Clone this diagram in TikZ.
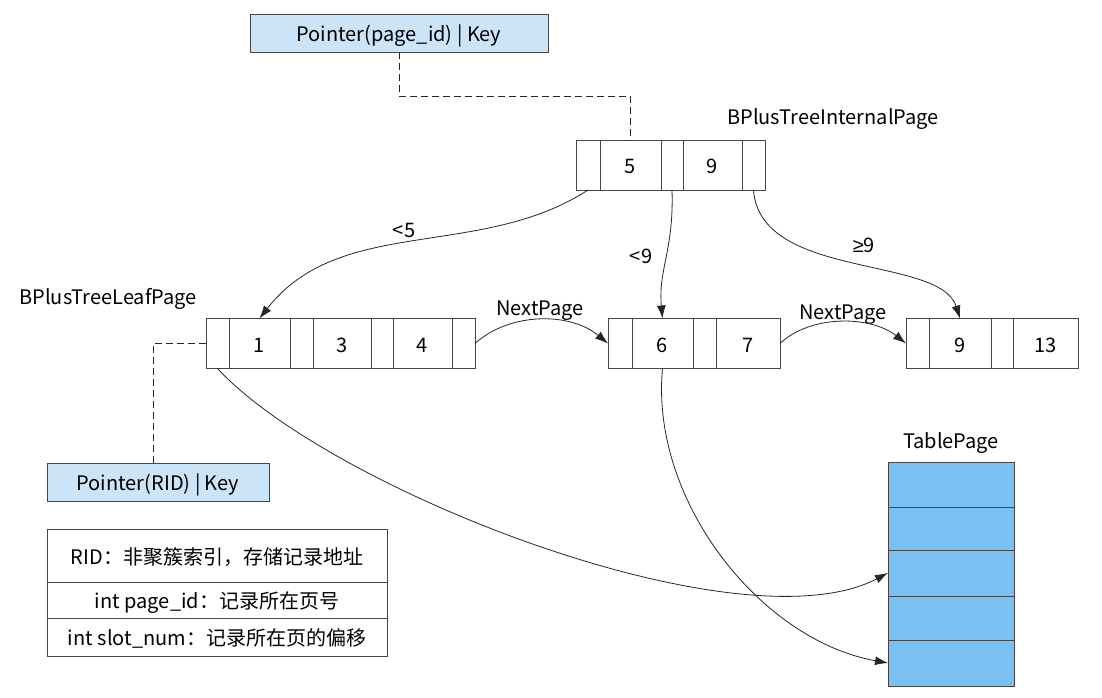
\documentclass[tikz,border=0pt]{standalone}
\usepackage{fontspec}
\setmainfont{Noto Sans CJK SC}
\newfontfamily\mathsym{Liberation Sans}
\usepackage{tikz}
\usetikzlibrary{arrows.meta, calc}

\definecolor{keyblue}{RGB}{204,228,248}
\definecolor{rowblue}{RGB}{124,193,243}
\definecolor{edgegray}{RGB}{70,70,70}

\begin{document}
\begin{tikzpicture}[x=1pt, y=-1pt, line width=0.9pt, font=\fontsize{20}{23}\selectfont,
    text height=14.6pt, text depth=0pt,
    cell/.style={draw=edgegray, minimum height=50pt, inner sep=0pt, outer sep=0pt, anchor=west, text height=17pt},
    keybox/.style={draw=edgegray, fill=keyblue, minimum height=38pt, inner sep=0pt, text height=17pt},
    tablerow/.style={draw=edgegray, fill=rowblue, minimum width=126pt, inner sep=0pt, outer sep=0pt, anchor=north},
    legendrow/.style={draw=edgegray, fill=white, minimum width=340pt, inner sep=0pt, outer sep=0pt, anchor=north, text height=17pt},
    link/.style={-{Latex[length=13pt,width=9pt]}, draw=black!85, line width=0.8pt},
    guide/.style={dashed, dash pattern=on 7pt off 4pt, draw=black!85}]
                        \useasboundingbox (0,0) rectangle (1102,698);
                        % internal page
                        \node[cell, minimum width=24pt] (ip0) at (576,165) {};
                        \node[cell, minimum width=61pt] (ik5) at (ip0.east) {5};
                        \node[cell, minimum width=22pt] (ip1) at (ik5.east) {};
                        \node[cell, minimum width=59pt] (ik9) at (ip1.east) {9};
                        \node[cell, minimum width=23pt] (ip2) at (ik9.east) {};
                        % leaf pages
                        \node[cell, minimum width=23pt] (lp0) at (206,343.5) {};
                        \node[cell, minimum width=61pt] (lk1) at (lp0.east) {1};
                        \node[cell, minimum width=23pt] (lp1) at (lk1.east) {};
                        \node[cell, minimum width=58pt] (lk3) at (lp1.east) {3};
                        \node[cell, minimum width=22pt] (lp2) at (lk3.east) {};
                        \node[cell, minimum width=59pt] (lk4) at (lp2.east) {4};
                        \node[cell, minimum width=23pt] (lp3) at (lk4.east) {};
                        \node[cell, minimum width=24pt] (mp0) at (608,343.5) {};
                        \node[cell, minimum width=61pt] (mk6) at (mp0.east) {6};
                        \node[cell, minimum width=23pt] (mp1) at (mk6.east) {};
                        \node[cell, minimum width=64pt] (mk7) at (mp1.east) {7};
                        \node[cell, minimum width=23pt] (rp0) at (906,343.5) {};
                        \node[cell, minimum width=62pt] (rk9) at (rp0.east) {9};
                        \node[cell, minimum width=22pt] (rp1) at (rk9.east) {};
                        \node[cell, minimum width=65pt] (rk13) at (rp1.east) {13};
                        % table page
                        \node[tablerow, minimum height=45pt] (t1) at (951,462) {};
                        \node[tablerow, minimum height=43pt] (t2) at (t1.south) {};
                        \node[tablerow, minimum height=46pt] (t3) at (t2.south) {};
                        \node[tablerow, minimum height=44pt] (t4) at (t3.south) {};
                        \node[tablerow, minimum height=46pt] (t5) at (t4.south) {};
                        % key boxes and legend
                        \node[keybox, minimum width=298pt] (top) at (399,33) {Pointer(page\_id) | Key};
                        \node[keybox, minimum width=222pt] (rid) at (158,482) {Pointer(RID) | Key};
                        \node[legendrow, minimum height=53pt] (g1) at (217,529) {RID：非聚簇索引，存储记录地址};
                        \node[legendrow, minimum height=36pt] (g2) at (g1.south) {int page\_id：记录所在页号};
                        \node[legendrow, minimum height=38pt] (g3) at (g2.south) {int slot\_num：记录所在页的偏移};
                        % titles
                        \node (tinternal) at (833,117) {BPlusTreeInternalPage};
                        \node (tleaf) at (108,297) {BPlusTreeLeafPage};
                        \node (ttable) at (951,441) {TablePage};
                        \node (tnext1) at (540,308) {NextPage};
                        \node (tnext2) at (843,312) {NextPage};
                        \node (tlt5) at (404,230) {<5};
                        \node (tlt9) at (641,256) {<9};
                        \node (tge9) at (864,245) {{\mathsym ≥}9};
                        % connectors
                        \coordinate (c1) at (397,96);
                        \coordinate (c2) at (153,343.5);
                        \draw[guide] (top.south) -- (top.south |- c1) -| (ik5.north);
                        \draw[guide] (lp0.west) -- (c2) -- (c2 |- rid.north);
                        \draw[link] (ip0.south) .. controls (480,260) and (340,215) .. (lk1.north);
                        \draw[link] (ip1.south) .. controls (674,250) and (658,270) .. (mk6.north);
                        \draw[link] (ip2.south) .. controls (760,280) and (940,255) .. (rk9.north);
                        \draw[link] (lp3.east) .. controls (510,312) and (570,312) .. (mp0.west);
                        \draw[link] (mk7.east) .. controls (810,315) and (870,315) .. (rp0.west);
                        \draw[link] (lp0.south) .. controls (330,490) and (740,650) .. (t3.west);
                        \draw[link] (mk6.south) .. controls (650,500) and (760,640) .. (t5.west);
                    \end{tikzpicture}
\end{document}
